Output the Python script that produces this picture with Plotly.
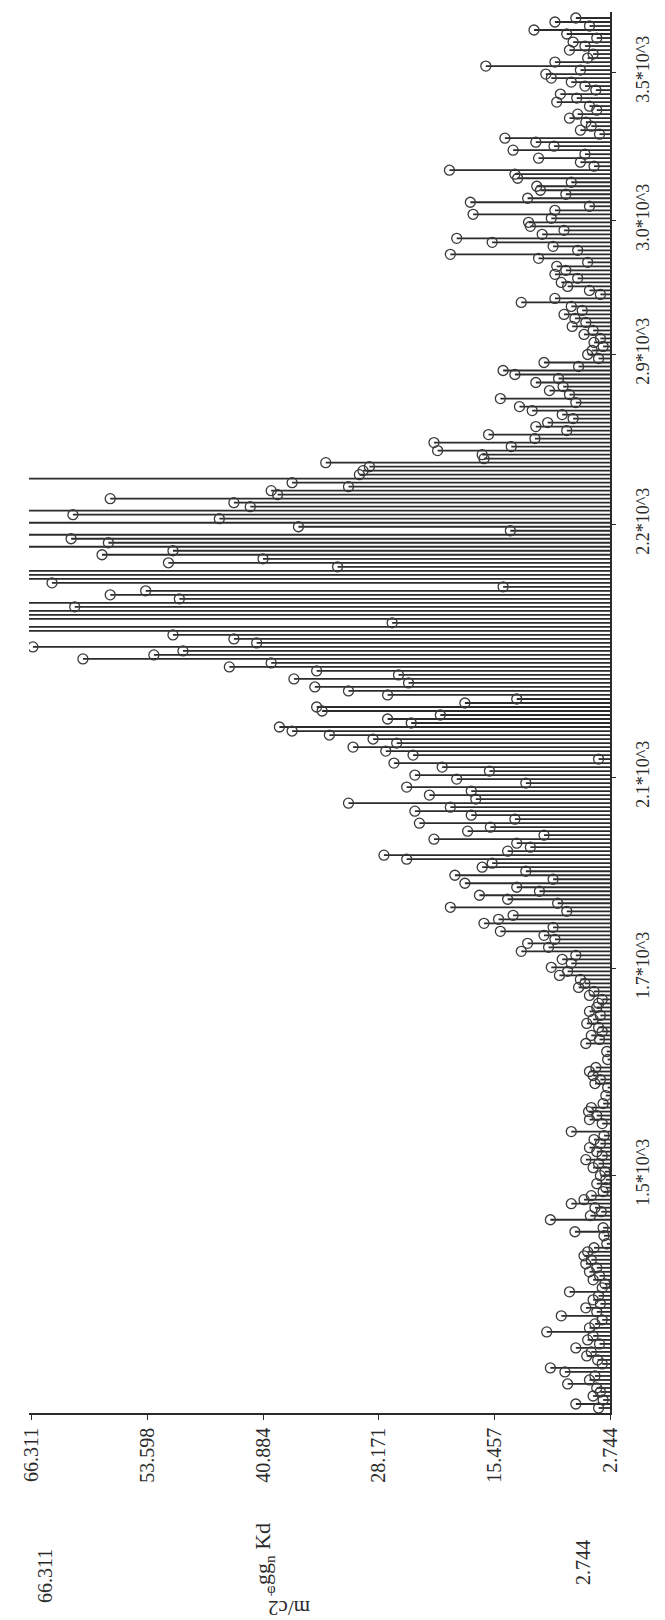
import plotly.graph_objects as go

# Stem heights, listed from the top stem (highest m/z, near 3.5*10^3) down to the bottom stem.
# 70.0 marks stems that run past the left edge of the value axis (clipped in the original).
values_top_down = [
    # upper sparse part (3.5 .. 2.9 * 10^3)
    6.5, 8.8, 5.0, 11.1, 7.5, 4.2, 6.8, 5.5, 7.2, 4.6,
    5.2, 8.8, 16.4, 6.0, 9.8, 9.2, 7.0, 5.5, 4.3, 8.2,
    6.4, 8.6, 5.0, 4.2, 6.3, 7.2, 5.4, 4.8, 6.0, 3.9,
    14.3, 10.9, 8.9, 13.4, 5.5, 10.6, 6.0, 4.5, 20.4, 13.2,
    12.9, 7.0, 10.8, 10.4, 7.6, 11.8, 18.1, 5.0, 8.8, 17.8,
    9.2, 11.7, 11.5, 7.8, 10.2, 19.6, 15.7, 9.0, 6.3, 20.3,
    10.6, 5.2, 8.6, 7.6, 8.8, 6.3, 8.1, 7.4, 5.0, 3.8,
    8.8, 12.5, 7.0, 5.8, 7.8, 6.6, 5.4, 6.9, 4.6, 5.6,
    3.8, 4.5, 3.5, 4.7, 5.2, 4.0, 10.0, 6.2, 14.5, 13.2,
    8.4, 10.9, 7.9, 9.4, 7.2, 14.8, 6.5, 12.7, 11.3, 8.0,
    6.8, 9.6, 10.9, 7.5, 16.1, 11.0, 22.1, 13.6, 21.7, 16.8,
    16.6, 34.0, 29.2, 29.9,
    # tall block (around 2.2 * 10^3)
    30.3, 70.0, 37.7, 31.5, 40.0, 39.3, 57.7, 44.1, 42.3, 70.0,
    61.8, 45.7, 70.0, 37.0, 13.7, 70.0, 62.0, 57.9, 70.0, 50.8,
    58.6, 40.9, 51.3, 32.7, 70.0, 70.0, 70.0, 64.1, 14.5, 53.8,
    57.7, 50.1, 70.0, 61.6, 70.0, 70.0, 70.0,
    26.7, 70.0, 70.0, 50.8, 44.1, 41.6, 66.2, 49.7, 52.9, 60.7,
    40.0, 44.6, 35.0, 26.0, 37.5, 24.9,
    35.2, 31.5, 27.2, 13.0, 18.7, 35.0, 34.4, 21.4, 27.2, 24.6,
    # local peak near 2.1 * 10^3
    39.1, 37.7,
    # descending flank
    33.6, 28.8, 26.2, 31.0, 27.4, 24.4, 4.0, 26.5, 21.2, 16.0,
    24.2, 19.6, 12.0, 25.1, 18.0, 22.6, 17.5, 31.5, 20.3, 24.2,
    18.0, 13.2, 23.7, 15.9, 18.4, 10.0, 22.1, 13.0, 11.5, 14.0,
    27.6, 25.1, 15.7, 16.8, 12.0, 19.8, 9.0, 18.7, 13.0, 10.5,
    17.1, 14.0, 8.5, 20.3, 7.5, 13.4, 15.0, 16.6, 9.0, 14.8,
    10.0, 8.8, 11.8, 9.5, 12.5, 6.5, 8.0, 7.0, 9.2, 7.4,
    8.3, 6.0, 5.5, 6.2, 4.5, 5.0, 3.6, 4.0,
    # lower sparse part (1.7 .. 1.5 * 10^3 and below)
    4.2, 5.0, 3.8, 4.6, 5.3, 4.0,
    3.6, 4.8, 3.9, 5.4, None, 3.1, None, 3.0, None,
    4.3, 5.0, 4.6, 3.8, 4.4, 3.0, None, 3.2, None,
    3.5, 4.8, 5.1, 4.2, 5.0, 3.6, None, 7.0, 3.4, 4.5,
    3.8, 5.0, 4.2, 3.6, 5.4, 4.0, 4.6, 3.3, 3.8,
    3.2, 4.2, 3.2, 3.5, 4.8, 5.6, 7.0, 4.4, 3.7, 4.9,
    9.3, None, 3.5, 6.6, 3.4, None, 3.1, 4.5, 5.2, 5.6,
    4.8, 5.4, 4.2, 5.0, 3.9, 4.6, 3.3, 3.6, 7.2, 4.0,
    4.6, 3.8, 5.4, 4.2, 8.1, 3.6, 4.4, 5.0, 9.7, 4.6,
    5.2, 3.9, 6.5, 4.8, 5.3, 4.1, 3.6, 9.3, 7.7, 4.4,
    5.0, 7.4, 4.2, 3.8, 4.6, 3.5, 6.5, 4.0,
]

category_labels = ["1.5*10^3", "1.7*10^3", "2.1*10^3", "2.2*10^3",
                   "2.9*10^3", "3.0*10^3", "3.5*10^3"]
category_tick_index = [58.75, 110.5, 158.25, 221.5, 264.0, 297.5, 334.5]
value_ticks = [66.311, 53.598, 40.884, 28.171, 15.457, 2.744]
baseline = 2.744
range_min_label = "2.744"
range_max_label = "66.311"
series_label = "gg<sub>n</sub> Kd"
unit_label = "m/c2"

# bottom-to-top ordering
values = list(reversed(values_top_down))
idx = list(range(len(values)))

stem_x, stem_y, mk_x, mk_y = [], [], [], []
for i, v in zip(idx, values):
    if v is None:
        continue
    stem_x += [baseline, v, None]
    stem_y += [i, i, None]
    mk_x.append(v)
    mk_y.append(i)

SERIF = "Liberation Serif, Times New Roman, serif"
INK = "#2a2a2a"

fig = go.Figure()
fig.add_trace(go.Scatter(x=stem_x, y=stem_y, mode="lines",
                         line=dict(color="#2b2b2b", width=1.8),
                         hoverinfo="skip", showlegend=False))
fig.add_trace(go.Scatter(x=mk_x, y=mk_y, mode="markers",
                         marker=dict(symbol="circle-open", size=10, color="#3a3a3a",
                                     line=dict(width=1.3)),
                         showlegend=False))

L, R, T, B = 21, 602, 4, 1405
W, H = 665, 1620
n = len(values)
top_px = 10
step = (B - 5 - top_px) / (n - 1)


def paper(px, py):
    return (px - L) / (R - L), (B - py) / (B - T)


annos = [
    (range_max_label, 37, 1568, -90, 20),
    (range_min_label, 575, 1555, -90, 20),
    (series_label, 256, 1546, -90, 22),
    ("φ", 263, 1580, 0, 15),
    (unit_label, 281, 1600, 180, 21),
]
for text, px, py, ang, fs in annos:
    ax_, ay_ = paper(px, py)
    fig.add_annotation(x=ax_, y=ay_, xref="paper", yref="paper", text=text,
                       showarrow=False, textangle=ang,
                       font=dict(family=SERIF, size=fs, color=INK),
                       xanchor="center", yanchor="middle")

# y range: index 0 sits 5 px above the value axis, top index sits at y=top_px
y_lo = -5 / step
y_hi = (n - 1) + (top_px - T) / step

# tick positions were read assuming 4 px per stem from y=1402; rescale to current step
tick_px = [1402 - 4 * t for t in category_tick_index]
tick_vals = [(B - 5 - p) / step for p in tick_px]

fig.update_layout(
    width=W, height=H,
    margin=dict(l=L, r=W - R, t=T, b=H - B, pad=0),
    paper_bgcolor="white", plot_bgcolor="white",
    showlegend=False,
    xaxis=dict(range=[66.63, 2.744], tickvals=value_ticks,
               ticktext=[f"{v:.3f}" for v in value_ticks],
               tickangle=-90, ticks="outside", ticklen=5, tickwidth=1.3,
               tickcolor=INK, showline=True, linecolor=INK, linewidth=1.5,
               showgrid=False, zeroline=False,
               tickfont=dict(family=SERIF, size=20, color=INK)),
    yaxis=dict(range=[y_lo, y_hi], side="right", tickvals=tick_vals,
               ticktext=category_labels, tickangle=-90, ticks="outside",
               ticklen=4, tickwidth=1.3, tickcolor=INK, showline=True,
               linecolor=INK, linewidth=1.5, showgrid=False, zeroline=False,
               ticklabelstandoff=12,
               tickfont=dict(family=SERIF, size=18, color=INK)),
)

fig.write_html("out.html")
